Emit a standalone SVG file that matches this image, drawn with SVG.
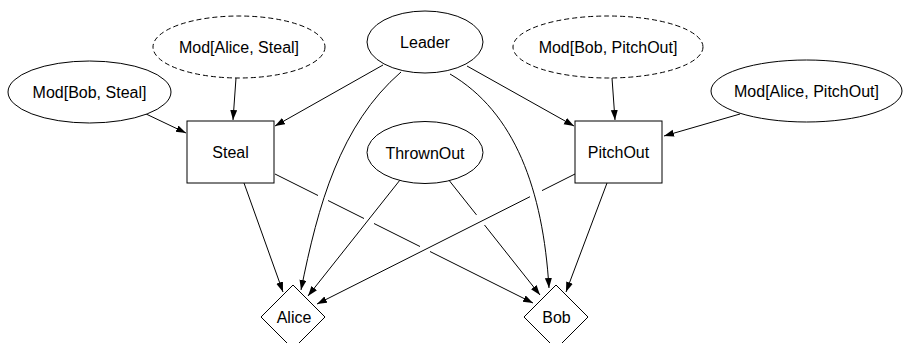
<svg xmlns="http://www.w3.org/2000/svg" width="903" height="343" viewBox="0 0 903 343">
<style>
  .n { fill: #ffffff; stroke: #000000; stroke-width: 1; }
  .d { stroke-dasharray: 5 3; }
  .t { font-family: "Liberation Sans", Arial, Helvetica, sans-serif; font-size: 16px; fill: #000000; text-anchor: middle; }
  .e { fill: none; stroke: #000000; stroke-width: 1; marker-end: url(#arr); }
</style>
<defs>
  <marker id="arr" markerUnits="userSpaceOnUse" markerWidth="11" markerHeight="8" refX="10" refY="3.5" orient="auto">
    <path d="M0,0 L10,3.5 L0,7 z" fill="#000000" stroke="none"/>
  </marker>
</defs>
<rect width="903" height="343" fill="#ffffff"/>
<g id="edges">
  <path class="e" d="M144,113 L186,133"/>
  <path class="e" d="M236,78 L233,120"/>
  <path class="e" d="M383,65 L275,126"/>
  <path class="e" d="M467,66 L574,126"/>
  <path class="e" d="M612,78 L615,120"/>
  <path class="e" d="M740,114 L664,136"/>
  <path class="e" d="M401,72 C340,125 318,205 301,290"/>
  <path class="e" d="M450,74 C515,112 543,190 549,288"/>
  <path class="e" d="M400,180 L308,296"/>
  <path class="e" d="M244,183 L283,292"/>
  <path class="e" d="M275,174 L318,195.5 M328,200.5 L364,218.5 M374,223.5 L420,246.5 M430,251.5 L533,303"/>
  <path class="e" d="M448,179 L476.5,214.9 M484.5,225 L540,295"/>
  <path class="e" d="M575,174 L542,190.6 M530,196.7 L317,304"/>
  <path class="e" d="M607,183 L566,292"/>
</g>
<g id="mod_bob_steal">
  <ellipse class="n" cx="89.5" cy="92" rx="81.5" ry="31"/>
  <text class="t" x="89.5" y="98">Mod[Bob, Steal]</text>
</g>
<g id="mod_alice_steal">
  <ellipse class="n d" cx="239" cy="47" rx="86" ry="31"/>
  <text class="t" x="239" y="53">Mod[Alice, Steal]</text>
</g>
<g id="leader">
  <ellipse class="n" cx="425" cy="42" rx="58" ry="31"/>
  <text class="t" x="425" y="48">Leader</text>
</g>
<g id="mod_bob_pitchout">
  <ellipse class="n d" cx="608" cy="47" rx="95" ry="31"/>
  <text class="t" x="608" y="53">Mod[Bob, PitchOut]</text>
</g>
<g id="mod_alice_pitchout">
  <ellipse class="n" cx="806.5" cy="91" rx="95.5" ry="31"/>
  <text class="t" x="806.5" y="97">Mod[Alice, PitchOut]</text>
</g>
<g id="steal">
  <rect class="n" x="187" y="121" width="87" height="62"/>
  <text class="t" x="230.5" y="158">Steal</text>
</g>
<g id="thrownout">
  <ellipse class="n" cx="425" cy="152.5" rx="58" ry="31"/>
  <text class="t" x="425" y="158.5">ThrownOut</text>
</g>
<g id="pitchout">
  <rect class="n" x="575" y="121" width="87" height="62"/>
  <text class="t" x="618.5" y="158">PitchOut</text>
</g>
<g id="alice">
  <polygon class="n" points="293,285 325,317 293,349 261,317"/>
  <text class="t" x="294" y="322.5">Alice</text>
</g>
<g id="bob">
  <polygon class="n" points="556,285 588,317 556,349 524,317"/>
  <text class="t" x="556.5" y="322.5">Bob</text>
</g>
</svg>
